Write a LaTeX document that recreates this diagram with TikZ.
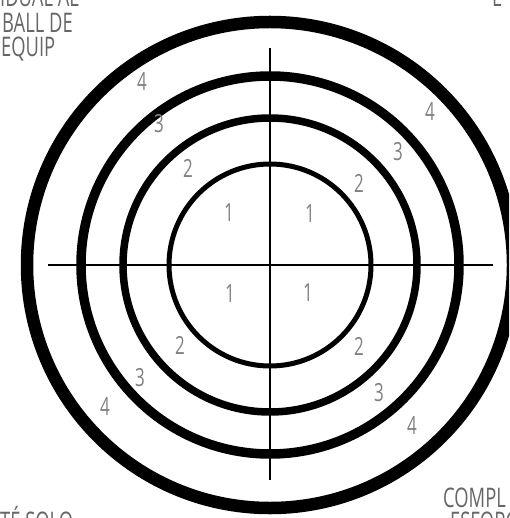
\documentclass[tikz,border=0pt]{standalone}
\usepackage{fontspec}
\newfontfamily\thinfont[FakeStretch=0.68]{Open Sans}
\begin{document}
\begin{tikzpicture}[x=1pt,y=-1pt,
  axis/.style={black, line width=1.6pt},
  num/.style={text=black!50, font=\thinfont\fontsize{25}{25}\selectfont, inner sep=0pt},
  word/.style={text=black!60, font=\thinfont\fontsize{27}{27}\selectfont, inner sep=0pt, anchor=base west}]
\useasboundingbox (0,0) rectangle (509,518);
\clip (0,0) rectangle (509,518);
\draw[axis] (270,48) -- (270,480);
\draw[axis] (48,265) -- (493,265);
\draw[black, line width=5pt] (270,265) circle (101);
\draw[black, line width=7.5pt] (270,265) circle (147);
\draw[black, line width=9.5pt] (270,265) circle (189);
\draw[black, line width=12.5pt] (270,265) circle (243);
\node[num] (ul1) at (229,213) {1};
\node[num] (ul2) at (188,168) {2};
\node[num] (ul3) at (159,124) {3};
\node[num] (ul4) at (142,82) {4};
\node[num] (ur1) at (310,214) {1};
\node[num] (ur2) at (359,183) {2};
\node[num] (ur3) at (398,152) {3};
\node[num] (ur4) at (430,112) {4};
\node[num] (ll1) at (230,294) {1};
\node[num] (ll2) at (180,345) {2};
\node[num] (ll3) at (140,378) {3};
\node[num] (ll4) at (105,407) {4};
\node[num] (lr1) at (308,293) {1};
\node[num] (lr2) at (359,346) {2};
\node[num] (lr3) at (379,393) {3};
\node[num] (lr4) at (412,426) {4};
\node[word] (tl1) at (0,7) {IDUAL AL};
\node[word] (tl2) at (2,33) {BALL DE};
\node[word] (tl3) at (1,57) {EQUIP};
\node[word] (tr1) at (492,7) {L};
\node[word] (bl1) at (0,531) {TÉ SOLO};
\node[word] (br1) at (443,507) {COMPL};
\node[word] (br2) at (450,531) {ESFORÇ};
\end{tikzpicture}
\end{document}
